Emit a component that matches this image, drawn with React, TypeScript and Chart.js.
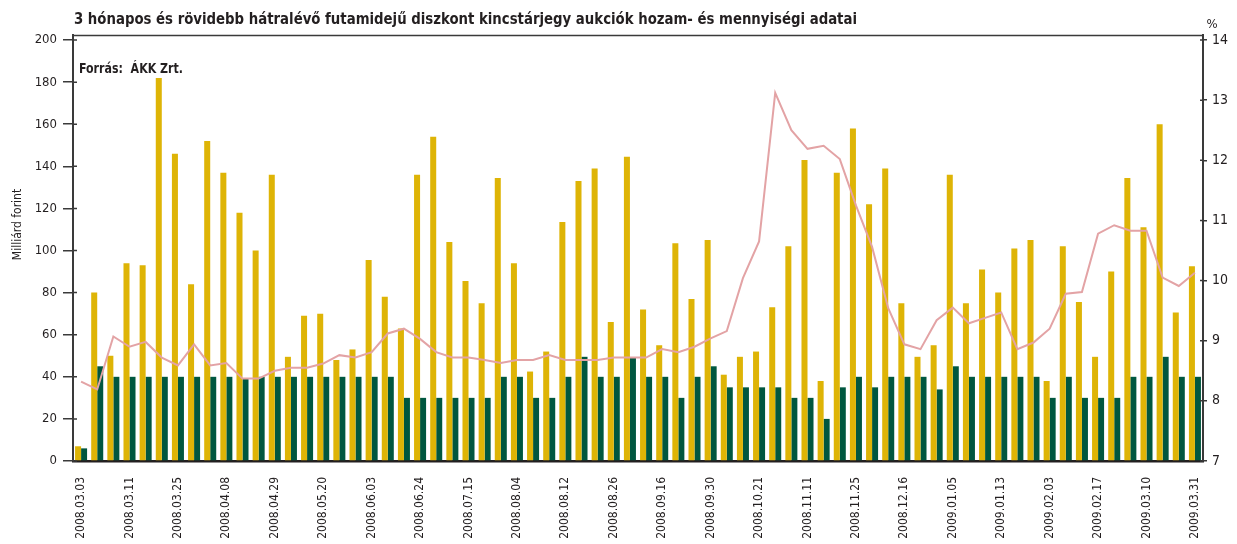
import React, { useEffect, useRef } from 'react';
import { Chart, registerables } from 'chart.js';

Chart.register(...registerables);

const FONT = '"DejaVu Sans Condensed", "DejaVu Sans", sans-serif';
const TEXT = '#231f20';

const tickLabels = [
  '2008.03.03', '2008.03.11', '2008.03.25', '2008.04.08', '2008.04.29', '2008.05.20',
  '2008.06.03', '2008.06.24', '2008.07.15', '2008.08.04', '2008.08.12', '2008.08.26',
  '2008.09.16', '2008.09.30', '2008.10.21', '2008.11.11', '2008.11.25', '2008.12.16',
  '2009.01.05', '2009.01.13', '2009.02.03', '2009.02.17', '2009.03.10', '2009.03.31',
];

const leftTicks = [0, 20, 40, 60, 80, 100, 120, 140, 160, 180, 200];
const rightTicks = [7, 8, 9, 10, 11, 12, 13, 14];

// Offered amount (billion HUF)
const offered = [
  7, 80, 50, 94, 93, 182, 146, 84, 152, 137, 118, 100, 136, 49.5, 69, 70, 48, 53,
  95.5, 78, 63, 136, 154, 104, 85.5, 75, 134.5, 94, 42.5, 52, 113.5, 133, 139, 66, 144.5,
  72, 55, 103.5, 77, 105, 41, 49.5, 52, 73, 102, 143, 38, 137, 158, 122, 139, 75,
  49.5, 55, 136, 75, 91, 80, 101, 105, 38, 102, 75.5, 49.5, 90, 134.5, 111, 160, 70.5, 92.5,
];

// Accepted amount (billion HUF)
const accepted = [
  6, 45, 40, 40, 40, 40, 40, 40, 40, 40, 39, 40, 40, 40, 40, 40, 40, 40,
  40, 40, 30, 30, 30, 30, 30, 30, 40, 40, 30, 30, 40, 49.5, 40, 40, 49,
  40, 40, 30, 40, 45, 35, 35, 35, 35, 30, 30, 20, 35, 40, 35, 40, 40,
  40, 34, 45, 40, 40, 40, 40, 40, 30, 40, 30, 30, 30, 40, 40, 49.5, 40, 40,
];

// Average yield (%)
const avgYield = [
  8.32, 8.19, 9.07, 8.9, 8.98, 8.72, 8.59, 8.94, 8.59, 8.63, 8.37, 8.37, 8.5, 8.55, 8.55, 8.62, 8.76, 8.72,
  8.81, 9.12, 9.2, 9.03, 8.81, 8.72, 8.72, 8.68, 8.63, 8.68, 8.68, 8.76, 8.68, 8.68, 8.68, 8.72, 8.72,
  8.72, 8.86, 8.81, 8.9, 9.04, 9.16, 10.04, 10.65, 13.12, 12.5, 12.19, 12.24, 12.02, 11.25, 10.56, 9.54, 8.94,
  8.86, 9.34, 9.55, 9.29, 9.38, 9.47, 8.86, 8.97, 9.2, 9.78, 9.81, 10.78, 10.92, 10.83, 10.83, 10.05, 9.91, 10.13,
];

const categories = offered.map((_, i) => (i % 3 === 0 ? tickLabels[i / 3] : ''));

const TITLE = '3 hónapos és rövidebb hátralévő futamidejű diszkont kincstárjegy aukciók hozam- és mennyiségi adatai';
const SOURCE = 'Forrás:  ÁKK Zrt.';

function fitText(ctx: CanvasRenderingContext2D, text: string, x: number, y: number, width: number) {
  const w = ctx.measureText(text).width;
  ctx.save();
  ctx.translate(x, y);
  ctx.scale(width / w, 1);
  ctx.fillText(text, 0, 0);
  ctx.restore();
}

const decorPlugin = {
  id: 'decor',
  afterDraw(chart: any) {
    const { ctx, chartArea: a, scales } = chart;
    ctx.save();
    ctx.strokeStyle = '#3a3a3a';
    ctx.lineWidth = 1.3;
    ctx.beginPath();
    ctx.moveTo(a.left, a.top + 0.5);
    ctx.lineTo(a.right, a.top + 0.5);
    ctx.stroke();
    ctx.lineWidth = 1.5;
    ctx.beginPath();
    scales.y.ticks.forEach((t: any) => {
      const py = scales.y.getPixelForValue(t.value);
      ctx.moveTo(a.left, py);
      ctx.lineTo(a.left + 4, py);
    });
    scales.y1.ticks.forEach((t: any) => {
      const py = scales.y1.getPixelForValue(t.value);
      ctx.moveTo(a.right, py);
      ctx.lineTo(a.right - 3, py);
    });
    ctx.stroke();

    ctx.fillStyle = TEXT;
    ctx.textBaseline = 'alphabetic';
    ctx.textAlign = 'left';
    ctx.font = `bold 16px ${FONT}`;
    fitText(ctx, TITLE, 74, 23.5, 783);
    ctx.font = `bold 13.5px ${FONT}`;
    fitText(ctx, SOURCE, 79, 72.5, 104);
    ctx.font = `13px ${FONT}`;
    ctx.textAlign = 'center';
    ctx.fillText('%', 1212, 28);
    ctx.translate(18, 224.5);
    ctx.rotate(-Math.PI / 2);
    ctx.textBaseline = 'middle';
    ctx.font = `12px ${FONT}`;
    ctx.fillText('Milliárd forint', 0, 0);
    ctx.restore();
  },
};

export default function App() {
  const ref = useRef<HTMLCanvasElement>(null);
  useEffect(() => {
    if (!ref.current) return;
    const chart = new Chart(ref.current, {
      type: 'bar',
      data: {
        labels: categories,
        datasets: [
          {
            type: 'line',
            label: 'Átlaghozam',
            data: avgYield,
            yAxisID: 'y1',
            borderColor: '#E3A3A5',
            borderWidth: 2,
            pointRadius: 0,
            tension: 0,
            order: 0,
          } as any,
          {
            type: 'bar',
            label: 'Benyújtott',
            data: offered,
            yAxisID: 'y',
            backgroundColor: '#DEB406',
            barPercentage: 1,
            categoryPercentage: 0.745,
            order: 1,
          },
          {
            type: 'bar',
            label: 'Elfogadott',
            data: accepted,
            yAxisID: 'y',
            backgroundColor: '#00573F',
            barPercentage: 1,
            categoryPercentage: 0.745,
            order: 1,
          },
        ],
      },
      options: {
        responsive: false,
        animation: false,
        devicePixelRatio: 1,
        layout: { padding: { top: 35, left: 0, right: 0, bottom: 0 } },
        plugins: { legend: { display: false }, tooltip: { enabled: false } },
        scales: {
          x: {
            type: 'category',
            offset: true,
            grid: { display: true, drawOnChartArea: false, drawTicks: false },
            border: { display: true, color: TEXT, width: 2.5 },
            ticks: {
              autoSkip: false,
              maxRotation: 90,
              minRotation: 90,
              padding: 16,
              color: TEXT,
              font: { family: FONT, size: 12 },
            },
            afterFit(s: any) { s.height = 83; },
          },
          y: {
            position: 'left',
            min: 0,
            max: 202.4,
            ticks: { padding: 6, color: TEXT, font: { family: FONT, size: 13 } },
            afterBuildTicks(s: any) { s.ticks = leftTicks.map((v) => ({ value: v })); },
            grid: { drawOnChartArea: false, tickLength: 10, color: '#3a3a3a', lineWidth: 1.5 },
            border: { color: '#3a3a3a', width: 2 },
            afterFit(s: any) { s.width = 73; },
          },
          y1: {
            position: 'right',
            min: 7,
            max: 14.083,
            ticks: { padding: 5, color: TEXT, font: { family: FONT, size: 14 } },
            afterBuildTicks(s: any) { s.ticks = rightTicks.map((v) => ({ value: v })); },
            grid: { drawOnChartArea: false, tickLength: 4, color: '#3a3a3a', lineWidth: 1.5 },
            border: { color: '#3a3a3a', width: 2 },
            afterFit(s: any) { s.width = 34; },
          },
        },
      } as any,
      plugins: [decorPlugin],
    });
    return () => chart.destroy();
  }, []);
  return (
    <div style={{ position: 'fixed', left: 0, top: 0, width: 1237, height: 544, background: '#fff' }}>
      <canvas ref={ref} width={1237} height={544} style={{ display: 'block' }} />
    </div>
  );
}
